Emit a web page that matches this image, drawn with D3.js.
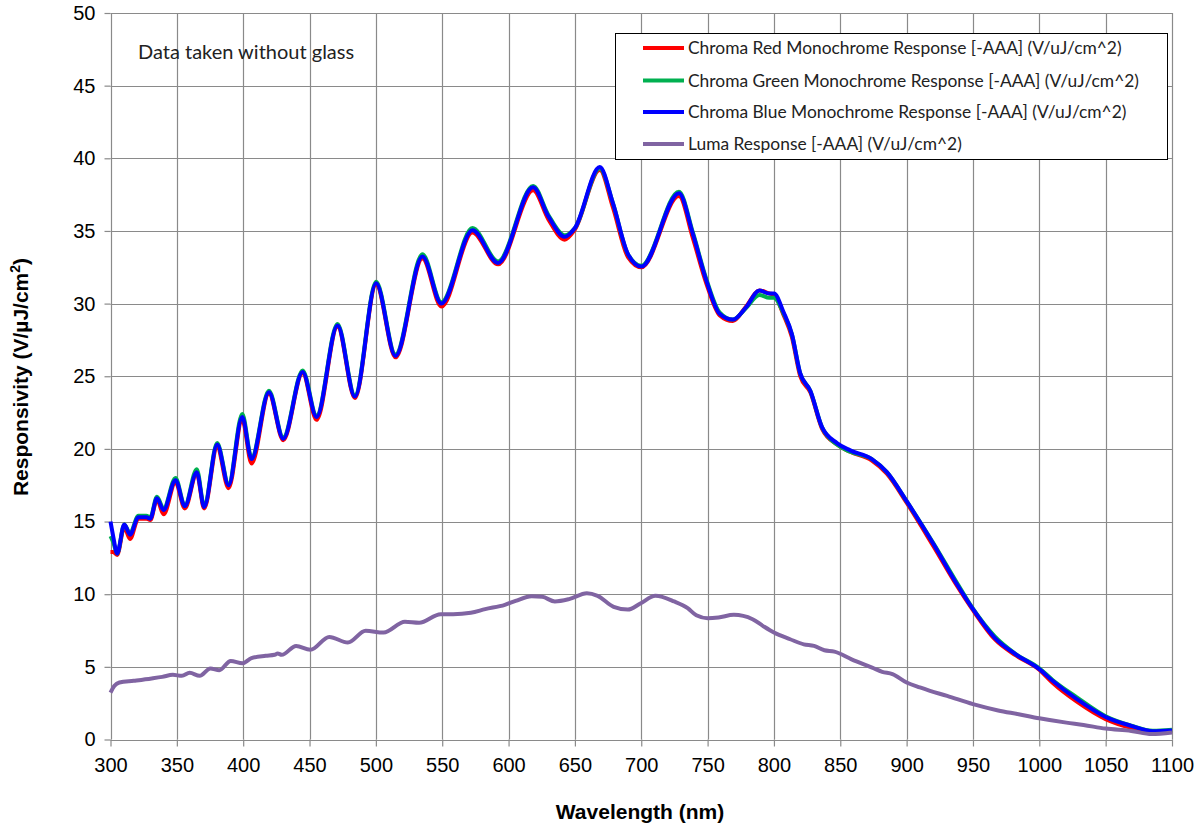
<!DOCTYPE html>
<html>
<head>
<meta charset="utf-8">
<script src="https://cdn.jsdelivr.net/npm/d3@7"></script>
<style>
  body { margin: 0; background: #fff; }
  .tick text { font-family: "Liberation Sans", Arial, sans-serif; font-size: 20px; fill: #000; }
</style>
</head>
<body>
<div id="chart"></div>
<script>
// wavelengths (nm) and responsivity values (V/uJ/cm^2)
var chromaNm = [300, 302, 305, 310.4, 314.7, 321, 327, 330, 335, 340, 349, 356, 365, 370.6, 380.4, 389,
    399.3, 406.3, 419.4, 430.2, 444.8, 455.3, 471.1, 484.2, 500.2, 514.8, 535.1, 549.4, 572.8, 592.1,
    618.5, 630, 642.3, 650, 668.7, 678.7, 690, 700.1, 728.4, 738.9, 749, 759, 769, 779, 789, 796.5,
    800, 807.3, 813.5, 819.8, 827.4, 836.2, 847.5, 857.5, 873.8, 885.1, 900, 920.2, 937.8, 950, 966.4,
    982, 1000, 1010, 1028.3, 1050, 1069.3, 1085.5, 1100];

var redVals = [12.9, 12.9, 12.7, 14.6, 13.8, 15.2, 15.2, 15.1, 16.5, 15.5, 17.7, 15.9, 18.3, 15.9, 20.1, 17.3,
    22.0, 19.0, 23.8, 20.6, 25.2, 22.0, 28.4, 23.5, 31.3, 26.3, 33.1, 29.8, 34.9, 32.7,
    37.8, 35.8, 34.4, 35.1, 39.2, 36.6, 33.2, 32.5, 37.4, 34.5, 31.4, 29.2, 28.8, 29.8, 30.9, 30.7,
    30.6, 29.2, 27.7, 25.0, 23.9, 21.4, 20.3, 19.8, 19.2, 18.3, 16.3, 13.3, 10.6, 8.9, 6.9,
    5.8, 4.8, 3.9, 2.6, 1.4, 0.8, 0.55, 0.6];

var greenVals = [14.0, 13.6, 12.8, 14.8, 14.2, 15.4, 15.4, 15.3, 16.7, 15.9, 18.0, 16.1, 18.6, 16.1, 20.4, 17.6,
    22.4, 19.4, 24.0, 20.8, 25.4, 22.3, 28.6, 23.7, 31.5, 26.5, 33.4, 30.1, 35.2, 32.9,
    38.1, 36.1, 34.7, 35.2, 39.3, 36.9, 33.4, 32.6, 37.7, 34.9, 31.7, 29.4, 28.9, 29.7, 30.6, 30.4,
    30.4, 29.3, 27.9, 25.2, 24.0, 21.5, 20.3, 19.8, 19.3, 18.4, 16.4, 13.5, 10.8, 9.0, 7.1,
    5.9, 4.9, 4.1, 2.9, 1.6, 0.95, 0.6, 0.68];

var blueVals = [15.0, 14.0, 12.8, 14.8, 14.1, 15.3, 15.3, 15.2, 16.6, 15.8, 17.85, 16.05, 18.4, 16.0, 20.3, 17.5,
    22.2, 19.3, 23.9, 20.7, 25.3, 22.2, 28.5, 23.6, 31.4, 26.4, 33.25, 30.0, 35.05, 32.8,
    38.0, 36.0, 34.6, 35.2, 39.4, 36.9, 33.4, 32.55, 37.6, 34.8, 31.6, 29.3, 28.9, 29.75, 30.9, 30.7,
    30.7, 29.4, 27.9, 25.2, 24.0, 21.5, 20.4, 19.9, 19.3, 18.4, 16.4, 13.45, 10.7, 8.97, 7.0,
    5.87, 4.84, 4.04, 2.78, 1.55, 0.94, 0.57, 0.62];

var lumaNm = [300, 303, 306.7, 317.5, 331, 339, 347, 353.8, 359.7, 367.2, 375.3, 382, 390.6, 399.5, 406.2,
    417, 423.7, 426, 429, 439.9, 450.6, 464.9, 478.9, 492.3, 505.8, 521.9, 532.6, 548.8, 558.2, 571.6,
    582.4, 597.2, 605.3, 617.4, 625.4, 634.9, 645.6, 659, 667.1, 679.2, 689.9, 699.3, 710.7, 724.8, 735,
    741.5, 750, 758.2, 769.8, 783.9, 791.6, 800, 812.2, 822.5, 830.2, 838, 845.6, 858.5, 874, 881.6,
    889.3, 900, 910, 917.6, 930.5, 950, 969, 984.4, 1000, 1020.4, 1033.3, 1050, 1069.3, 1084.7, 1100];

var lumaVals = [3.23, 3.7, 3.92, 4.04, 4.2, 4.31, 4.45, 4.38, 4.59, 4.38, 4.89, 4.77, 5.41, 5.25, 5.6,
    5.76, 5.83, 5.92, 5.83, 6.44, 6.17, 7.06, 6.67, 7.48, 7.36, 8.1, 8.03, 8.62, 8.62, 8.72,
    8.97, 9.27, 9.54, 9.86, 9.82, 9.5, 9.66, 10.07, 9.89, 9.13, 8.94, 9.36, 9.89, 9.5, 9.04,
    8.55, 8.35, 8.4, 8.58, 8.28, 7.82, 7.36, 6.9, 6.55, 6.44, 6.14, 6.05, 5.52, 4.95, 4.66,
    4.5, 3.92, 3.58, 3.35, 3.0, 2.43, 2.0, 1.74, 1.46, 1.16, 1.0, 0.75, 0.59, 0.37, 0.48];

var xTicks = [300, 350, 400, 450, 500, 550, 600, 650, 700, 750, 800, 850, 900, 950, 1000, 1050, 1100];
var yTicks = [0, 5, 10, 15, 20, 25, 30, 35, 40, 45, 50];

var seriesNames = ["Chroma Red Monochrome Response [-AAA] (V/uJ/cm^2)",
    "Chroma Green Monochrome Response [-AAA] (V/uJ/cm^2)",
    "Chroma Blue Monochrome Response [-AAA] (V/uJ/cm^2)",
    "Luma Response [-AAA] (V/uJ/cm^2)"];
var seriesColors = ["#ff0000", "#00b050", "#0000ff", "#8064a2"];

var width = 1202;
var height = 829;
var plotLeft = 110.5, plotRight = 1172, plotTop = 13, plotBottom = 739.5;
var GRID = "#8a8a8a";

var svg = d3.select("#chart")
    .append("svg")
    .attr("width", width)
    .attr("height", height);

// scales
var xScale = d3.scaleLinear().domain([300, 1100]).range([plotLeft, plotRight]);
var yScale = d3.scaleLinear().domain([0, 50]).range([plotBottom, plotTop]);

// grid
svg.append("g")
    .selectAll("line")
    .data(xTicks)
    .enter()
    .append("line")
    .attr("x1", function (d) { return Math.round(xScale(d)) + 0.5; })
    .attr("x2", function (d) { return Math.round(xScale(d)) + 0.5; })
    .attr("y1", plotTop)
    .attr("y2", plotBottom)
    .attr("stroke", GRID)
    .attr("stroke-width", 1.2);

svg.append("g")
    .selectAll("line")
    .data(yTicks)
    .enter()
    .append("line")
    .attr("x1", plotLeft)
    .attr("x2", plotRight)
    .attr("y1", function (d) { return Math.round(yScale(d)) + 0.5; })
    .attr("y2", function (d) { return Math.round(yScale(d)) + 0.5; })
    .attr("stroke", GRID)
    .attr("stroke-width", 1.2);

// axes
var xAxis = d3.axisBottom(xScale)
    .tickValues(xTicks)
    .tickFormat(d3.format("d"))
    .tickSize(7)
    .tickPadding(6);
var yAxis = d3.axisLeft(yScale)
    .tickValues(yTicks)
    .tickFormat(d3.format("d"))
    .tickSize(6)
    .tickPadding(9);

var gx = svg.append("g")
    .attr("transform", "translate(0," + plotBottom + ")")
    .call(xAxis);
var gy = svg.append("g")
    .attr("transform", "translate(" + plotLeft + ",0)")
    .call(yAxis);
gx.selectAll("line").attr("stroke", GRID).attr("stroke-width", 1.2);
gy.selectAll("line").attr("stroke", GRID).attr("stroke-width", 1.2);
gx.select(".domain").remove();
gy.select(".domain").remove();
gx.selectAll("text").attr("dy", "0.95em");

// lines
var chroma = [redVals, greenVals, blueVals];
var line = d3.line()
    .x(function (d) { return xScale(d[0]); })
    .y(function (d) { return yScale(d[1]); })
    .curve(d3.curveMonotoneX);

for (var s = 0; s < chroma.length; s++) {
    var pts = chromaNm.map(function (nm, i) { return [nm, chroma[s][i]]; });
    svg.append("path")
        .datum(pts)
        .attr("d", line)
        .attr("fill", "none")
        .attr("stroke", seriesColors[s])
        .attr("stroke-width", 4)
        .attr("stroke-linejoin", "round");
}

var lumaPts = lumaNm.map(function (nm, i) { return [nm, lumaVals[i]]; });
svg.append("path")
    .datum(lumaPts)
    .attr("d", line)
    .attr("fill", "none")
    .attr("stroke", seriesColors[3])
    .attr("stroke-width", 4)
    .attr("stroke-linejoin", "round");

// note
svg.append("text")
    .text("Data taken without glass")
    .attr("x", 138)
    .attr("y", 59)
    .style("font-family", "Lato, 'Open Sans', sans-serif")
    .style("font-size", "20px")
    .style("fill", "#222");

// legend
var legend = svg.append("g");
legend.append("rect")
    .attr("x", 615.5)
    .attr("y", 33.5)
    .attr("width", 552)
    .attr("height", 126)
    .attr("fill", "#fff")
    .attr("stroke", "#000")
    .attr("stroke-width", 1);

var rowY = [48, 80.5, 112, 144];
legend.selectAll("line")
    .data(seriesNames)
    .enter()
    .append("line")
    .attr("x1", 643)
    .attr("x2", 684)
    .attr("y1", function (d, i) { return rowY[i]; })
    .attr("y2", function (d, i) { return rowY[i]; })
    .attr("stroke", function (d, i) { return seriesColors[i]; })
    .attr("stroke-width", 4);

legend.selectAll("text")
    .data(seriesNames)
    .enter()
    .append("text")
    .text(function (d) { return d; })
    .attr("x", 688)
    .attr("y", function (d, i) { return rowY[i] + 6; })
    .style("font-family", "Lato, 'Open Sans', sans-serif")
    .style("font-size", "17.4px")
    .style("fill", "#222");

// axis titles
svg.append("text")
    .text("Wavelength (nm)")
    .attr("x", 640)
    .attr("y", 819)
    .attr("text-anchor", "middle")
    .style("font-family", "'Liberation Sans', Arial, sans-serif")
    .style("font-weight", "bold")
    .style("font-size", "21px");

var yt = svg.append("text")
    .attr("transform", "translate(28,377) rotate(-90)")
    .attr("text-anchor", "middle")
    .style("font-family", "'Liberation Sans', Arial, sans-serif")
    .style("font-weight", "bold")
    .style("font-size", "21px");
yt.append("tspan").text("Responsivity (V/\u00b5J/cm");
yt.append("tspan").text("2").attr("dy", -8).style("font-size", "14px");
yt.append("tspan").text(")").attr("dy", 8);
</script>
</body>
</html>
